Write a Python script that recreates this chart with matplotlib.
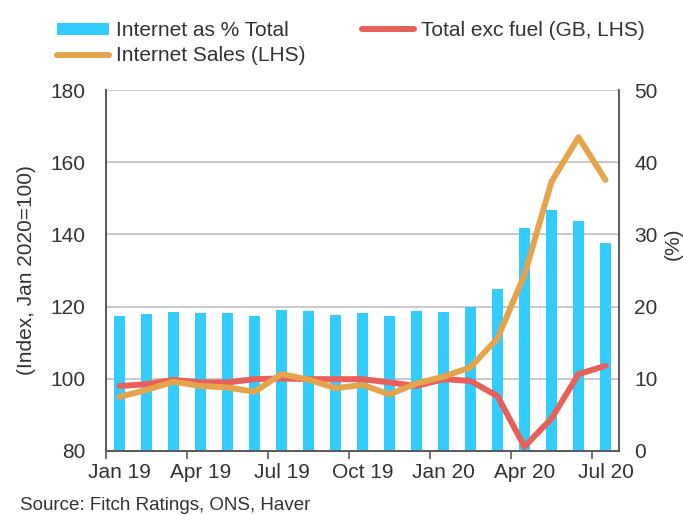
import matplotlib
matplotlib.use("Agg")
import matplotlib.pyplot as plt
import numpy as np
from matplotlib.patches import Patch
from matplotlib.lines import Line2D

plt.rcParams['font.family'] = ['Liberation Sans', 'DejaVu Sans']

months = ["Jan 19", "Feb 19", "Mar 19", "Apr 19", "May 19", "Jun 19", "Jul 19", "Aug 19",
          "Sep 19", "Oct 19", "Nov 19", "Dec 19", "Jan 20", "Feb 20", "Mar 20", "Apr 20",
          "May 20", "Jun 20", "Jul 20"]
internet_pct = [18.7, 19.0, 19.25, 19.15, 19.05, 18.7, 19.5, 19.4, 18.85, 19.05, 18.7,
                19.4, 19.25, 19.95, 22.5, 30.9, 33.4, 31.85, 28.85]
total_exc_fuel = [98.0, 98.5, 99.7, 99.0, 99.0, 99.9, 100.1, 99.9, 99.9, 99.9, 99.0,
                  98.0, 99.9, 99.4, 95.2, 81.2, 89.0, 101.3, 103.6]
internet_sales = [95.0, 96.9, 99.2, 98.0, 97.6, 96.4, 101.3, 99.8, 97.4, 98.3, 95.7,
                  98.7, 100.6, 103.2, 111.2, 128.8, 154.6, 166.9, 155.1]
xtick_labels = ["Jan 19", "Apr 19", "Jul 19", "Oct 19", "Jan 20", "Apr 20", "Jul 20"]

BAR = "#33CCFF"
RED = "#E8605A"
ORANGE = "#E5A44B"
SPINE = "#595959"
TXT = "#333333"
FS = 15

fig = plt.figure(figsize=(6.83, 5.15), dpi=100)
axb = fig.add_axes([106/683, 1-451/515, (619-106)/683, (451-90)/515])
ax = axb.twinx()
# left axis for lines
ax.yaxis.set_label_position("left")
ax.yaxis.tick_left()
axb.yaxis.set_label_position("right")
axb.yaxis.tick_right()
ax.set_zorder(axb.get_zorder() + 1)
ax.patch.set_visible(False)

x = np.arange(len(months))
axb.bar(x, internet_pct, width=0.41, color=BAR, zorder=2)
axb.set_ylim(0, 50)
axb.set_yticks(np.arange(0, 51, 10))
axb.grid(axis='y', color="#C0C0C0", lw=1.2, zorder=0)
axb.set_axisbelow(True)

ax.plot(x, total_exc_fuel, color=RED, lw=4.3, solid_capstyle='round', zorder=3)
ax.plot(x, internet_sales, color=ORANGE, lw=4.3, solid_capstyle='round', zorder=4)
ax.set_ylim(80, 180)
ax.set_yticks(np.arange(80, 181, 20))
ax.set_xlim(-0.5, len(months) - 0.5)

# x ticks: labels at every 3rd month, tick marks at category boundaries
pos = [months.index(m) for m in xtick_labels]
axb.set_xticks(pos)
axb.set_xticklabels(xtick_labels)
axb.set_xticks(np.arange(-0.5, len(months) - 1, 3), minor=True)
axb.tick_params(axis='x', which='major', length=0, pad=9, labelsize=FS, colors=TXT)
axb.tick_params(axis='x', which='minor', length=6, width=1.2, color=SPINE)
axb.tick_params(axis='y', length=0, pad=11, labelsize=FS, colors=TXT)
ax.tick_params(axis='y', length=0, pad=15, labelsize=FS, colors=TXT)
ax.tick_params(axis='x', which='both', length=0, labelbottom=False)

for a in (ax, axb):
    a.spines['top'].set_visible(False)
    for s in ('left', 'right', 'bottom'):
        a.spines[s].set_color(SPINE)
        a.spines[s].set_linewidth(1.2)

ax.set_ylabel("(Index, Jan 2020=100)", fontsize=FS, color=TXT)
ax.yaxis.set_label_coords(-0.136, 0.5)
axb.set_ylabel("(%)", fontsize=FS, color=TXT, rotation=90, va='center')
axb.yaxis.set_label_coords(1.105, 0.575)

handles = [Patch(facecolor=BAR, edgecolor='none'),
           Line2D([], [], color=ORANGE, lw=4.3, solid_capstyle='round'),
           Line2D([], [], color=RED, lw=4.3, solid_capstyle='round')]
labels = ["Internet as % Total", "Internet Sales (LHS)", "Total exc fuel (GB, LHS)"]
fig.legend(handles, labels, loc='upper left', bbox_to_anchor=(57/683, 0.959), ncol=2,
           frameon=False, fontsize=FS, handlelength=2.5, handleheight=0.5,
           handletextpad=0.33, columnspacing=2.7, labelspacing=0.3,
           borderpad=0, borderaxespad=0, labelcolor=TXT)

fig.text(20/683, 1-505/515, "Source: Fitch Ratings, ONS, Haver", fontsize=13.5,
         color=TXT, va='center', ha='left')

fig.savefig("out.png", dpi=100)
